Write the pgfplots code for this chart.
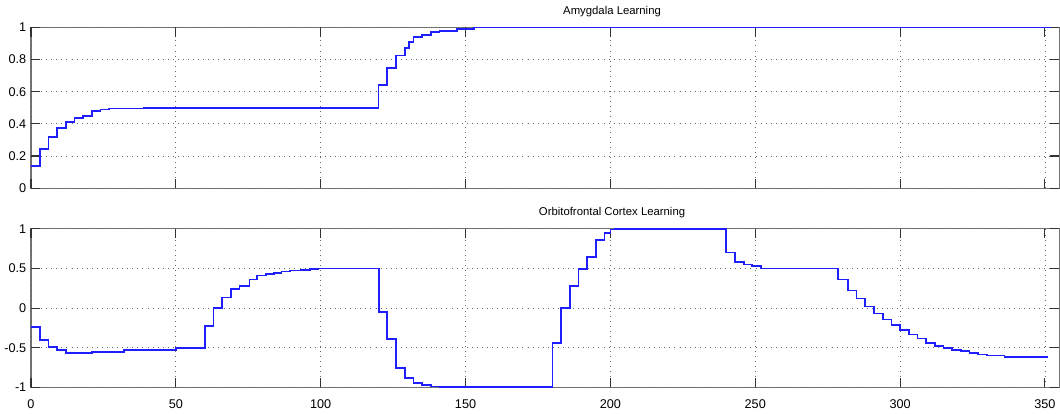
\documentclass[border=0pt]{standalone}
\usepackage{fontspec}
\setmainfont{Liberation Sans}
\usepackage{pgfplots}
\pgfplotsset{compat=1.18}
\definecolor{lineblue}{RGB}{30,30,255}
\pgfplotsset{
 mystyle/.style={
   scale only axis, width=771.3pt, xmin=0, xmax=355,
   xtick={0,50,100,150,200,250,300,350},
   grid=major,
   grid style={black!60, line width=0.6pt, dash pattern=on 0.6pt off 3.2pt},
   axis line style={draw=none},
   axis background/.style={draw=black!55, line width=0.8pt},
   tick align=inside, tick pos=both,
   major tick length=7pt,
   tick style={black!80, line width=0.8pt},
   tick label style={font=\fontsize{9.5}{10}\selectfont},
   xticklabel style={yshift=-6pt},
   /pgf/number format/assume math mode=true,
   title style={at={(0.565,1)}, anchor=south, font=\fontsize{8.5}{10}\selectfont, inner sep=2pt},
   clip=false,
 }
}
\begin{document}
\begin{tikzpicture}
\path (-23.25pt,20.6pt) rectangle (771.75pt,-289.9pt);
\begin{axis}[mystyle, at={(0,0)}, anchor=north west, height=120.5pt,
  ymin=0, ymax=1, ytick={0,0.2,0.4,0.6,0.8,1}, xticklabels={},
  title={Amygdala Learning}]
\addplot[const plot, lineblue, line width=1.3pt] coordinates {
(0,0.14)(3,0.243)(6,0.318)(9,0.372)(12,0.41)(15,0.436)(18,0.448)(21,0.48)(24,0.49)(27,0.495)(39,0.5)
(120,0.643)(123,0.75)(126,0.825)(129,0.87)(130.5,0.91)(132,0.94)(135,0.955)(138,0.97)(141,0.98)(147,0.99)(153,1)(250,1)(352,1)
};
\end{axis}
\begin{axis}[mystyle, at={(0,-151pt)}, anchor=north west, height=118.9pt,
  ymin=-1, ymax=1, ytick={-1,-0.5,0,0.5,1},
  title={Orbitofrontal Cortex Learning}]
\addplot[const plot, lineblue, line width=1.3pt] coordinates {
(0,-0.24)(3,-0.4)(6,-0.49)(9,-0.53)(12,-0.565)(21,-0.55)(32,-0.53)(50,-0.505)
(60,-0.23)(63,0)(66,0.135)(69,0.24)(72,0.28)(75.4,0.36)(78,0.41)(81,0.43)(84,0.44)(86.5,0.46)(89.4,0.475)(93,0.483)(96.3,0.49)(99,0.5)
(120,-0.05)(123,-0.39)(126,-0.755)(129,-0.88)(132,-0.945)(135,-0.975)(138,-0.99)(141,-1)
(180,-0.44)(183,0)(186,0.28)(189,0.49)(192,0.64)(195,0.86)(198,0.945)(200,0.99)(201.5,1)
(240,0.70)(243,0.58)(246,0.55)(249,0.53)(252,0.5)
(278.6,0.36)(282,0.22)(285,0.12)(288,0.02)(291,-0.07)(294,-0.145)(297,-0.215)(300,-0.28)(303,-0.335)(306,-0.385)(309,-0.44)(312,-0.48)(315,-0.505)(318,-0.525)(321,-0.545)(324,-0.57)(327,-0.585)(330,-0.6)(336,-0.62)(351,-0.62)
};
\end{axis}
\end{tikzpicture}
\end{document}
